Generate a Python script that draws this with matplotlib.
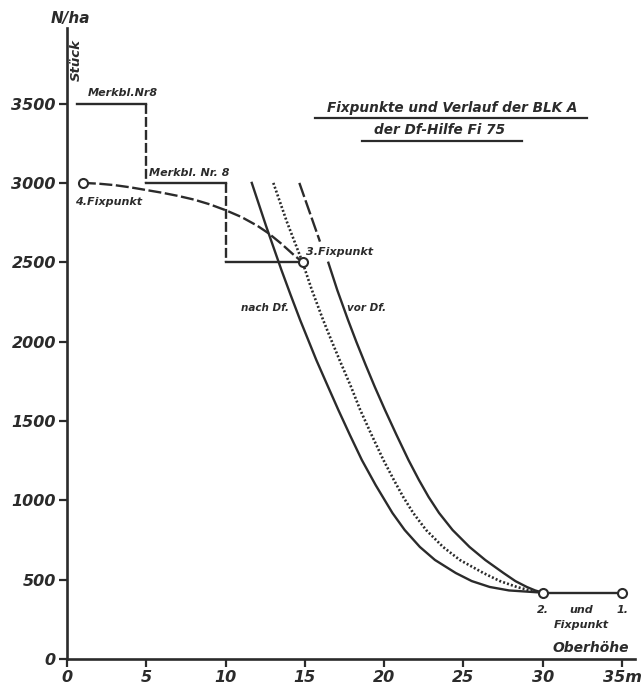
import matplotlib
matplotlib.use("Agg")
import matplotlib.pyplot as plt

# Stammzahl-Leitkurve (BLK A) der Df-Hilfe Fi 75
x_ticks = [0, 5, 10, 15, 20, 25, 30, 35]
x_tick_labels = ["0", "5", "10", "15", "20", "25", "30", "35m"]
y_ticks = [0, 500, 1000, 1500, 2000, 2500, 3000, 3500]

# Merkblatt Nr. 8 – Stufen
merkbl_x = [0.6, 5.0, 5.0, 10.0, 10.0, 14.85]
merkbl_y = [3500, 3500, 3000, 3000, 2500, 2500]

# Fixpunkte (Oberhöhe m, Stück/ha)
fix_x = [35.0, 30.0, 14.85, 1.0]
fix_y = [418, 418, 2500, 3000]

# Verbindung 4. -> 3. Fixpunkt
arc_x = [1.0, 2.0, 3.0, 4.0, 5.0, 6.0, 7.0, 8.0, 9.0, 10.0, 11.0, 12.0, 12.7, 13.5, 14.2, 14.85]
arc_y = [3000, 2995, 2986, 2972, 2955, 2938, 2918, 2895, 2865, 2828, 2785, 2730, 2683, 2618, 2555, 2500]

# Verlauf nach Df.
nach_x = [11.65, 12.55, 13.52, 14.10, 14.70, 15.21, 15.72, 16.41, 17.11, 17.84, 18.59,
          19.46, 20.52, 21.29, 22.25, 23.20, 24.51, 25.52, 26.65, 27.87, 30.0]
nach_y = [3000, 2729, 2451, 2294, 2136, 2010, 1884, 1727, 1569, 1411, 1254,
          1096, 920, 813, 706, 624, 542, 491, 454, 432, 418]

# Verlauf BLK A (punktiert)
blk_x = [13.01, 13.87, 14.85, 15.44, 16.15, 16.66, 17.24, 17.86, 18.49, 19.21, 19.95,
         20.61, 21.20, 21.83, 22.64, 23.71, 24.77, 26.25, 27.30, 28.36, 29.19, 30.0]
blk_y = [3000, 2753, 2500, 2325, 2136, 2010, 1871, 1727, 1569, 1411, 1254,
         1128, 1021, 920, 813, 706, 624, 542, 491, 454, 432, 418]

# Verlauf vor Df.
vor_dash_x = [14.65, 15.3, 15.95]
vor_dash_y = [3000, 2815, 2630]
vor_x = [16.48, 17.04, 17.72, 18.25, 18.83, 19.41, 20.05, 20.78, 21.53, 22.19,
         22.80, 23.46, 24.31, 25.38, 26.37, 27.52, 28.27, 28.99, 29.52, 30.0]
vor_y = [2497, 2325, 2136, 1997, 1853, 1714, 1569, 1411, 1254, 1128,
         1021, 920, 813, 706, 624, 542, 491, 454, 432, 418]

ink = "#2b2b2b"
plt.rcParams["font.family"] = ["DejaVu Sans"]

fig = plt.figure(figsize=(6.44, 6.88), dpi=100)
fig.patch.set_facecolor("white")
ax = fig.add_axes([67 / 644, 29 / 688, 568 / 644, 631 / 688])
ax.set_xlim(0, 568 / 15.86)
ax.set_ylim(0, 631 / 0.1587)

for side in ("top", "right"):
    ax.spines[side].set_visible(False)
for side in ("left", "bottom"):
    ax.spines[side].set_color(ink)
    ax.spines[side].set_linewidth(1.9)

tick_font = dict(fontstyle="italic", fontweight="bold", fontsize=11.5, color=ink)
ax.set_xticks(x_ticks)
ax.set_xticklabels(x_tick_labels, **tick_font)
ax.set_yticks(y_ticks)
ax.set_yticklabels([str(v) for v in y_ticks], **tick_font)
ax.tick_params(axis="both", direction="out", length=6, width=1.6, color=ink, pad=2)

lw = 1.7
# Merkblatt-Stufen: waagerecht durchgezogen, senkrecht gestrichelt
ax.plot(merkbl_x[0:2], merkbl_y[0:2], color=ink, lw=lw)
ax.plot(merkbl_x[1:3], merkbl_y[1:3], color=ink, lw=lw, dashes=(4.2, 1.3))
ax.plot(merkbl_x[2:4], merkbl_y[2:4], color=ink, lw=lw)
ax.plot(merkbl_x[3:5], merkbl_y[3:5], color=ink, lw=lw, dashes=(4.2, 1.3))
ax.plot(merkbl_x[4:6], merkbl_y[4:6], color=ink, lw=lw)

ax.plot(arc_x, arc_y, color=ink, lw=lw, dashes=(5.5, 1.5))
ax.plot(nach_x, nach_y, color=ink, lw=lw, solid_joinstyle="round")
ax.plot(blk_x, blk_y, color=ink, lw=1.9, dashes=(0.75, 0.8))
ax.plot(vor_dash_x, vor_dash_y, color=ink, lw=lw, dashes=(6.3, 1.5))
ax.plot(vor_x, vor_y, color=ink, lw=lw, solid_joinstyle="round")
ax.plot(fix_x[:2], fix_y[:2], color=ink, lw=lw)

ax.plot(fix_x, fix_y, linestyle="none", marker="o", ms=6.5, mfc="white",
        mec=ink, mew=1.5, zorder=5)

txt = dict(color=ink, fontstyle="italic", fontweight="bold", fontsize=8)
ax.text(1.3, 3566, "Merkbl.Nr8", ha="left", va="center", **txt)
ax.text(5.2, 3062, "Merkbl. Nr. 8", ha="left", va="center", **txt)
ax.text(0.5, 2882, "4.Fixpunkt", ha="left", va="center", **txt)
ax.text(15.1, 2565, "3.Fixpunkt", ha="left", va="center", **txt)
ax.text(14.0, 2212, "nach Df.", ha="right", va="center", color=ink,
        fontstyle="italic", fontweight="bold", fontsize=7.5)
ax.text(18.9, 2212, "vor Df.", ha="center", va="center", color=ink,
        fontstyle="italic", fontweight="bold", fontsize=7.5)
ax.text(30.0, 309, "2.", ha="center", va="center", **txt)
ax.text(32.4, 309, "und", ha="center", va="center", **txt)
ax.text(35.0, 309, "1.", ha="center", va="center", **txt)
ax.text(32.4, 214, "Fixpunkt", ha="center", va="center", **txt)
ax.text(33.0, 70, "Oberhöhe", ha="center", va="center", color=ink,
        fontstyle="italic", fontweight="bold", fontsize=10)

# Achsentitel
fig.text(70 / 644, 1 - 18 / 688, "N/ha", ha="center", va="center", color=ink,
         fontstyle="italic", fontweight="bold", fontsize=11)
fig.text(76 / 644, 1 - 60 / 688, "Stück", ha="center", va="center", color=ink,
         fontstyle="italic", fontweight="bold", fontsize=9.5, rotation=90)

# Überschrift mit Unterstreichung
fig.text(452 / 644, 1 - 108 / 688, "Fixpunkte und Verlauf der BLK A", ha="center",
         va="center", color=ink, fontstyle="italic", fontweight="bold", fontsize=9.8)
fig.text(440 / 644, 1 - 130 / 688, "der Df-Hilfe Fi 75", ha="center",
         va="center", color=ink, fontstyle="italic", fontweight="bold", fontsize=9.8)
fig.add_artist(plt.Line2D([315 / 644, 587 / 644], [1 - 117.5 / 688, 1 - 117.5 / 688],
                          color=ink, lw=1.6, transform=fig.transFigure))
fig.add_artist(plt.Line2D([362 / 644, 522 / 644], [1 - 140.5 / 688, 1 - 140.5 / 688],
                          color=ink, lw=1.6, transform=fig.transFigure))

fig.savefig("out.png", dpi=100, facecolor="white")
